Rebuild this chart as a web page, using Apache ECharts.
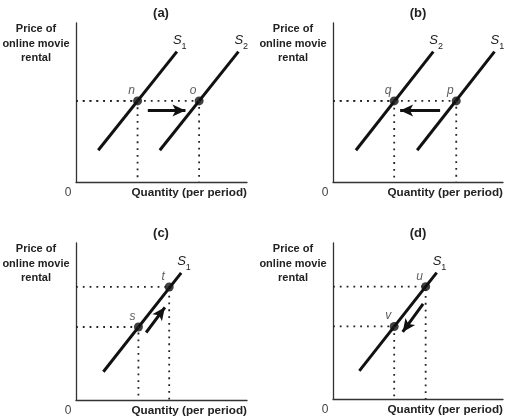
<!DOCTYPE html>
<html><head><meta charset="utf-8">
<script src="https://cdn.jsdelivr.net/npm/echarts@6/dist/echarts.min.js"></script>
<style>html,body{margin:0;padding:0;background:#fff}#c{width:505px;height:419px}</style>
</head><body><div id="c"></div>
<script>
const panelTitles = ['(a)', '(b)', '(c)', '(d)'];
const yAxisName = 'Price of\nonline movie\nrental';
const xAxisName = 'Quantity (per period)';
const originLabel = '0';

// (a) supply shifts right: S1 -> S2, n -> o
const aCurveSubs = ['1', '2'];
const aCurveLeft = [[1.3, 2.0], [5.9, 8.2]];
const aCurveRight = [[4.9, 2.0], [9.5, 8.2]];
const aPointNames = ['n', 'o'];
const aPoints = [[3.6, 5.1], [7.2, 5.1]];
const aArrow = [[4.2, 4.5], [6.4, 4.5]];

// (b) supply shifts left: S1 -> S2, p -> q
const bCurveSubs = ['2', '1'];
const bCurveLeft = [[1.35, 2.0], [5.9, 8.2]];
const bCurveRight = [[4.95, 2.0], [9.5, 8.2]];
const bPointNames = ['q', 'p'];
const bPoints = [[3.6, 5.1], [7.25, 5.1]];
const bArrow = [[6.3, 4.5], [3.95, 4.5]];

// (c) movement up along S1: s -> t
const cCurveSubs = ['1'];
const cCurve = [[1.6, 1.8], [6.15, 8.1]];
const cPointNames = ['s', 't'];
const cPoints = [[3.65, 4.65], [5.45, 7.2]];
const cArrow = [[4.1, 4.3], [5.2, 5.9]];

// (d) movement down along S1: u -> v
const dCurveSubs = ['1'];
const dCurve = [[1.55, 1.8], [6.1, 8.1]];
const dPointNames = ['v', 'u'];
const dPoints = [[3.6, 4.65], [5.45, 7.2]];
const dArrow = [[5.3, 6.1], [4.1, 4.3]];

const layouts = [
  {left: 76, top: 23, width: 171, height: 159},
  {left: 333, top: 23, width: 170, height: 159},
  {left: 76, top: 243, width: 171, height: 157},
  {left: 333, top: 243, width: 170, height: 156}
];

const panels = [
  {curves: [aCurveLeft, aCurveRight], subs: aCurveSubs, points: aPoints, names: aPointNames, arrow: aArrow},
  {curves: [bCurveLeft, bCurveRight], subs: bCurveSubs, points: bPoints, names: bPointNames, arrow: bArrow},
  {curves: [cCurve], subs: cCurveSubs, points: cPoints, names: cPointNames, arrow: cArrow},
  {curves: [dCurve], subs: dCurveSubs, points: dPoints, names: dPointNames, arrow: dArrow}
];

const FONT = 'Liberation Sans';
const INK = '#111';

const series = [];
panels.forEach((p, i) => {
  p.curves.forEach((c, k) => {
    series.push({
      type: 'line', xAxisIndex: i, yAxisIndex: i, data: c, symbol: 'none', silent: true,
      lineStyle: {color: INK, width: 3, cap: 'butt'},
      endLabel: {
        show: true, distance: 0, offset: [-4, -9],
        formatter: '{s|S}{sub|' + p.subs[k] + '}',
        rich: {
          s: {fontFamily: FONT, fontStyle: 'italic', fontSize: 13, color: '#222', lineHeight: 17, verticalAlign: 'top'},
          sub: {fontFamily: FONT, fontSize: 9, color: '#222', verticalAlign: 'bottom'}
        }
      }
    });
  });
  p.points.forEach(pt => {
    series.push({
      type: 'line', xAxisIndex: i, yAxisIndex: i, symbol: 'none', silent: true,
      data: [[0, pt[1]], [pt[0], pt[1]], [pt[0], 0]],
      lineStyle: {color: '#222', width: 1.8, type: [1.8, 5], cap: 'butt'}
    });
  });
  series.push({
    type: 'scatter', xAxisIndex: i, yAxisIndex: i, symbolSize: 9, silent: true,
    itemStyle: {color: INK},
    data: p.points.map((pt, k) => ({value: pt, name: p.names[k]})),
    label: {
      show: true, position: 'top', distance: 0, offset: [-6, 0],
      formatter: '{b}', fontFamily: FONT, fontStyle: 'italic', fontSize: 12, color: '#333'
    },
    markLine: {
      silent: true, symbol: ['none', 'arrow'], symbolSize: [9, 13],
      lineStyle: {color: INK, width: 3, type: 'solid'},
      label: {show: false},
      data: [[{coord: p.arrow[0]}, {coord: p.arrow[1]}]]
    }
  });
});

const graphic = [];
layouts.forEach((l, i) => {
  graphic.push({type: 'text', x: l.left + 85, y: l.top - 10, style: {text: panelTitles[i], font: 'bold 13px "' + FONT + '"', fill: '#222', align: 'center', verticalAlign: 'middle'}});
  graphic.push({type: 'text', x: l.left - 40, y: l.top - 1, style: {text: yAxisName, font: 'bold 11px "' + FONT + '"', fill: '#222', align: 'center', verticalAlign: 'top', lineHeight: 14.5}});
  graphic.push({type: 'text', x: l.left - 8, y: l.top + l.height + 11, style: {text: originLabel, font: '12px "' + FONT + '"', fill: '#444', align: 'center', verticalAlign: 'middle'}});
  graphic.push({type: 'text', x: l.left + l.width, y: l.top + l.height + 11, style: {text: xAxisName, font: 'bold 11.7px "' + FONT + '"', fill: '#222', align: 'right', verticalAlign: 'middle'}});
});

const axisBase = (i) => ({
  type: 'value', gridIndex: i, min: 0, max: 10,
  axisLine: {show: true, onZero: false, lineStyle: {color: '#333', width: 1.3}},
  axisTick: {show: false}, axisLabel: {show: false}, splitLine: {show: false}
});

const chart = echarts.init(document.getElementById('c'), null, {renderer: 'canvas'});
chart.setOption({
  animation: false,
  backgroundColor: '#fff',
  grid: layouts.map(l => ({left: l.left, top: l.top, width: l.width, height: l.height})),
  xAxis: layouts.map((l, i) => axisBase(i)),
  yAxis: layouts.map((l, i) => axisBase(i)),
  series: series,
  graphic: graphic
});
</script></body></html>
